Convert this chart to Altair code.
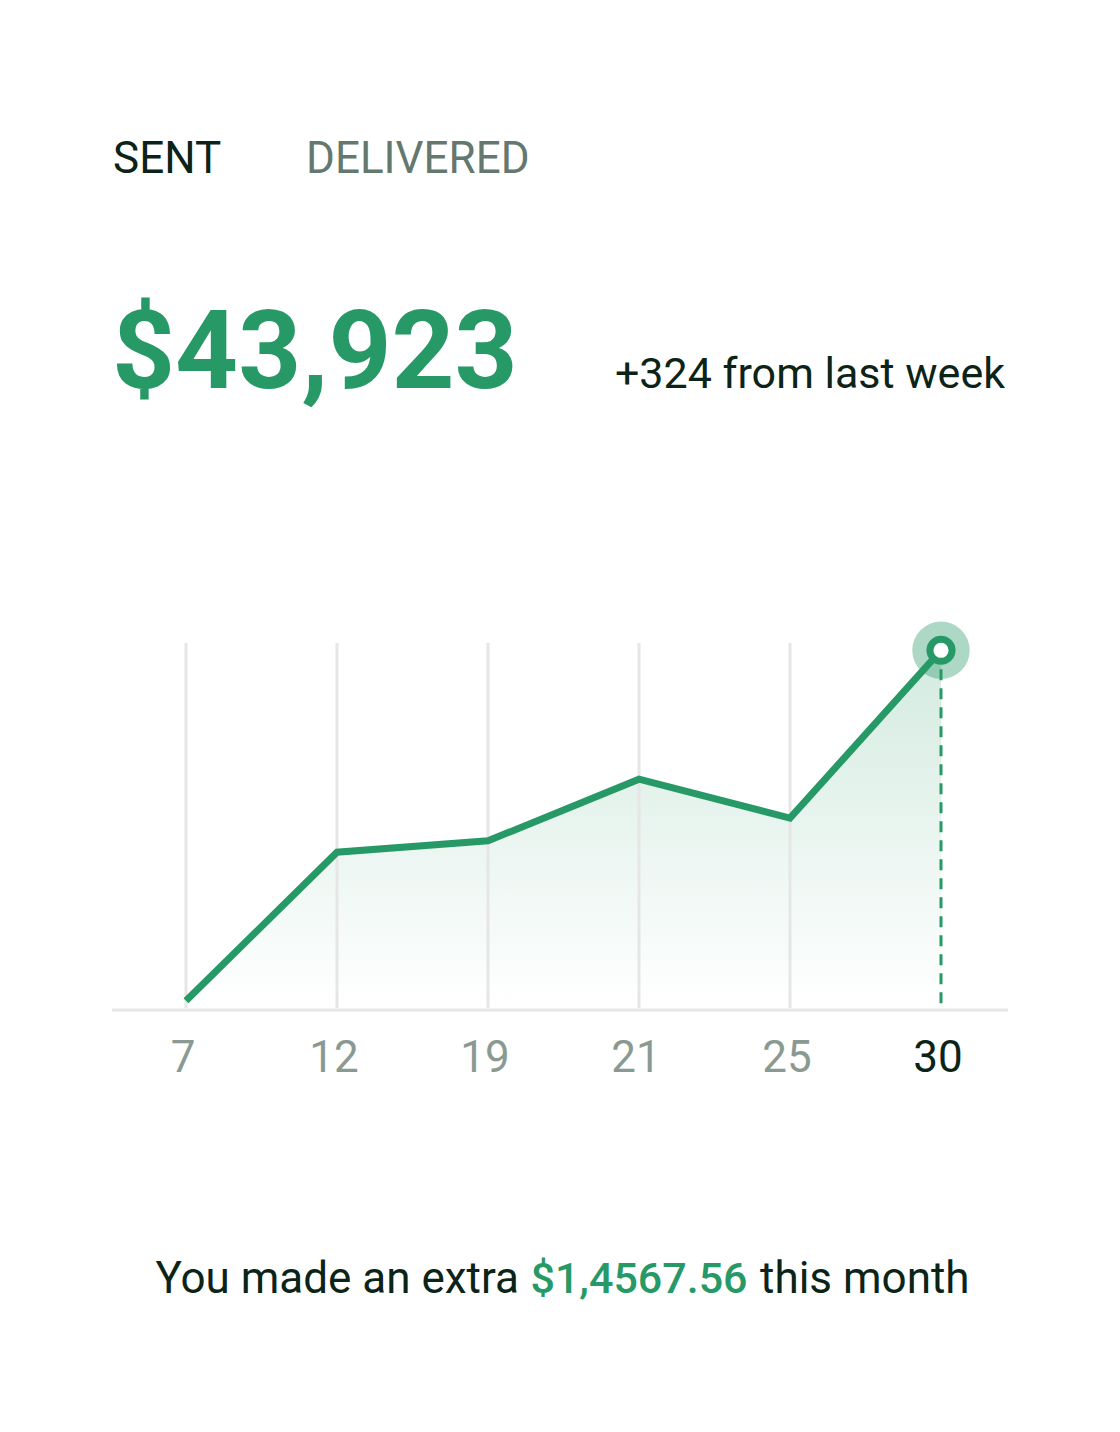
import altair as alt
import pandas as pd

days = ["7", "12", "19", "21", "25", "30"]
values = [2, 42.7, 45.8, 62.7, 52, 98]
grid_days = ["7", "12", "19", "21", "25"]

GREEN = "#269966"
DARK = "#0b2417"
GREY = "#65786f"
LABEL_GREY = "#8a9a92"
FONT = "Roboto"

df = pd.DataFrame({"day": days, "value": values})
grid_df = pd.DataFrame({"day": grid_days, "top": [100] * len(grid_days), "bottom": [0] * len(grid_days)})
last_df = df.tail(1).assign(zero=0)
label_df = pd.DataFrame({"day": days, "last": [d == days[-1] for d in days]})

x = alt.X("day:O", sort=days, scale=alt.Scale(type="point", range=[178, 933], padding=0), axis=None)
yscale = alt.Scale(domain=[0, 100], range=[1000, 635])

base = alt.Chart(df)

grid = alt.Chart(grid_df).mark_rule(color="#e6e6e6", strokeWidth=3).encode(
    x=x, y=alt.Y("top:Q", scale=yscale, axis=None), y2="bottom:Q"
)

baseline = alt.Chart(df.head(1)).mark_rule(color="#e6e6e6", strokeWidth=3).encode(
    x=alt.value(104), x2=alt.value(1000), y=alt.value(1002)
)

area = base.mark_area(
    color=alt.LinearGradient(
        gradient="linear",
        stops=[
            alt.GradientStop(color="rgba(38,153,102,0)", offset=0),
            alt.GradientStop(color="rgba(38,153,102,0.2)", offset=1),
        ],
        x1=1, x2=1, y1=1, y2=0,
    )
).encode(x=x, y=alt.Y("value:Q", scale=yscale, axis=None))

halo = alt.Chart(last_df).mark_point(
    filled=True, color=GREEN, opacity=0.38, size=3300, shape="circle", strokeWidth=0
).encode(x=x, y=alt.Y("value:Q", scale=yscale, axis=None))

dashed = alt.Chart(last_df).mark_rule(color=GREEN, strokeWidth=3, strokeDash=[11, 8]).encode(
    x=x, y=alt.Y("value:Q", scale=yscale, axis=None), y2="zero:Q"
)

line = base.mark_line(color=GREEN, strokeWidth=7, strokeJoin="miter", strokeCap="butt").encode(
    x=x, y=alt.Y("value:Q", scale=yscale, axis=None)
)

dot = alt.Chart(last_df).mark_point(
    filled=True, fill="white", stroke=GREEN, strokeWidth=7, size=490, shape="circle", opacity=1
).encode(x=x, y=alt.Y("value:Q", scale=yscale, axis=None))

labels = alt.Chart(label_df).mark_text(
    font=FONT, fontSize=44, baseline="alphabetic", align="center", dx=-3
).encode(
    x=x,
    y=alt.value(1064),
    text="day:N",
    color=alt.Color("last:N", scale=alt.Scale(domain=[False, True], range=[LABEL_GREY, DARK]), legend=None),
)

def txt(s, xpos, ypos, size, color, align="left", weight="normal"):
    return alt.Chart(pd.DataFrame({"t": [s]})).mark_text(
        font=FONT, fontSize=size, color=color, align=align, baseline="alphabetic", fontWeight=weight
    ).encode(x=alt.value(xpos), y=alt.value(ypos), text="t:N")

texts = [
    txt("SENT", 105, 165, 44, DARK),
    txt("DELIVERED", 298, 165, 44, GREY),
    txt("$43,923", 104, 380, 110, GREEN, weight="bold"),
    txt("+324 from last week", 997, 380, 43, DARK, align="right"),
    txt("You made an extra", 511, 1285, 44, DARK, align="right"),
    txt("$1,4567.56", 631, 1285, 43, GREEN, align="center", weight=500),
    txt("this month", 752, 1285, 44, DARK),
]

chart = alt.layer(area, grid, baseline, halo, dashed, line, dot, labels, *texts).properties(
    width=1104, height=1416, autosize=alt.AutoSizeParams(type="none"), padding=0, background="white"
).configure_view(stroke=None, strokeWidth=0)

chart.save("out.html", embed_options={"renderer": "svg", "actions": False})
